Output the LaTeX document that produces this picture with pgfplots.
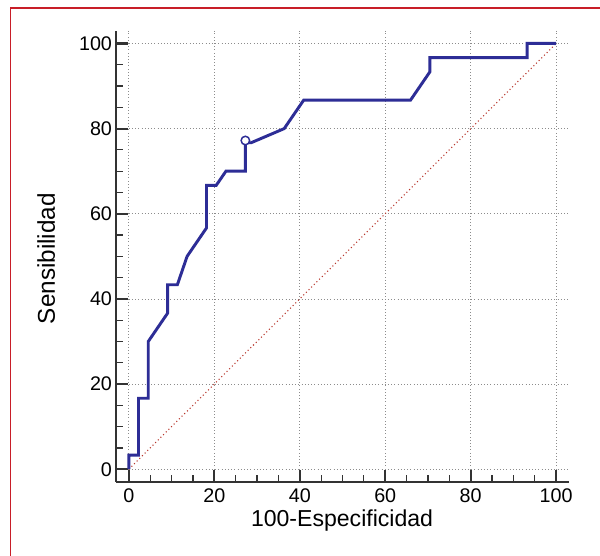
\documentclass[border=0pt]{standalone}
\usepackage{fontspec}
\setmainfont{Liberation Sans}
\usepackage{pgfplots}
\pgfplotsset{compat=1.18}
\definecolor{roc}{RGB}{45,45,150}
\definecolor{diag}{RGB}{185,55,45}
\definecolor{framered}{RGB}{200,30,40}
\begin{document}
\begin{tikzpicture}
% 1px of the reference = 0.75pt; axis box lower left at (0,0)
\useasboundingbox (-87pt,-55.5pt) rectangle (363pt,361.5pt);
\fill[white] (-87pt,-55.5pt) rectangle (363pt,361.5pt);
\draw[framered, line width=1.1pt] (-79.1pt,-60pt) -- (-79.1pt,355.5pt) -- (370pt,355.5pt);
\begin{axis}[
  scale only axis, width=339.75pt, height=338.5pt,
  at={(0,0)}, anchor=south west,
  xmin=-3, xmax=103, ymin=-3, ymax=103,
  axis lines=left,
  axis line style={-, line width=1.9pt, black!80},
  xtick={0,20,...,100}, ytick={0,20,...,100},
  minor tick num=3,
  tick align=inside,
  major tick length=9pt, minor tick length=5.25pt,
  every major tick/.append style={line width=1.6pt, black!80},
  every minor tick/.append style={line width=0.9pt, black!80},
  grid=major,
  major grid style={dotted, black!45, line width=0.5pt},
  /pgf/number format/assume math mode=true,
  tick label style={font=\fontsize{14.8}{17}\selectfont},
  xticklabel style={yshift=-1.5pt},
  yticklabel style={xshift=0.5pt},
  xlabel={100-Especificidad},
  ylabel={Sensibilidad},
  xlabel style={at={(axis description cs:0.499,-0.0997)}, anchor=base, font=\fontsize{17.3}{20}\selectfont},
  ylabel style={at={(axis description cs:-0.1347,0.495)}, anchor=base, font=\fontsize{18.2}{21}\selectfont},
]
\addplot[diag, dotted, line width=0.8pt] coordinates {(0,0) (100,100)};
\addplot[roc, line width=2.2pt] coordinates {
  (0,0) (0,3.33) (2.27,3.33) (2.27,16.67) (4.55,16.67) (4.55,30)
  (9.09,36.67) (9.09,43.33) (11.36,43.33) (13.64,50) (18.18,56.67)
  (18.18,66.67) (20.45,66.67) (22.73,70) (27.27,70) (27.27,76.67)
  (28.6,76.67) (36.36,80) (40.91,86.67) (65.91,86.67) (70.45,93.33)
  (70.45,96.67) (93.18,96.67) (93.18,100) (100,100)
};
\addplot[only marks, mark=*, mark size=3.2pt, mark options={draw=roc, fill=white, line width=1.1pt}] coordinates {(27.27,77.2)};
\end{axis}
\end{tikzpicture}
\end{document}
